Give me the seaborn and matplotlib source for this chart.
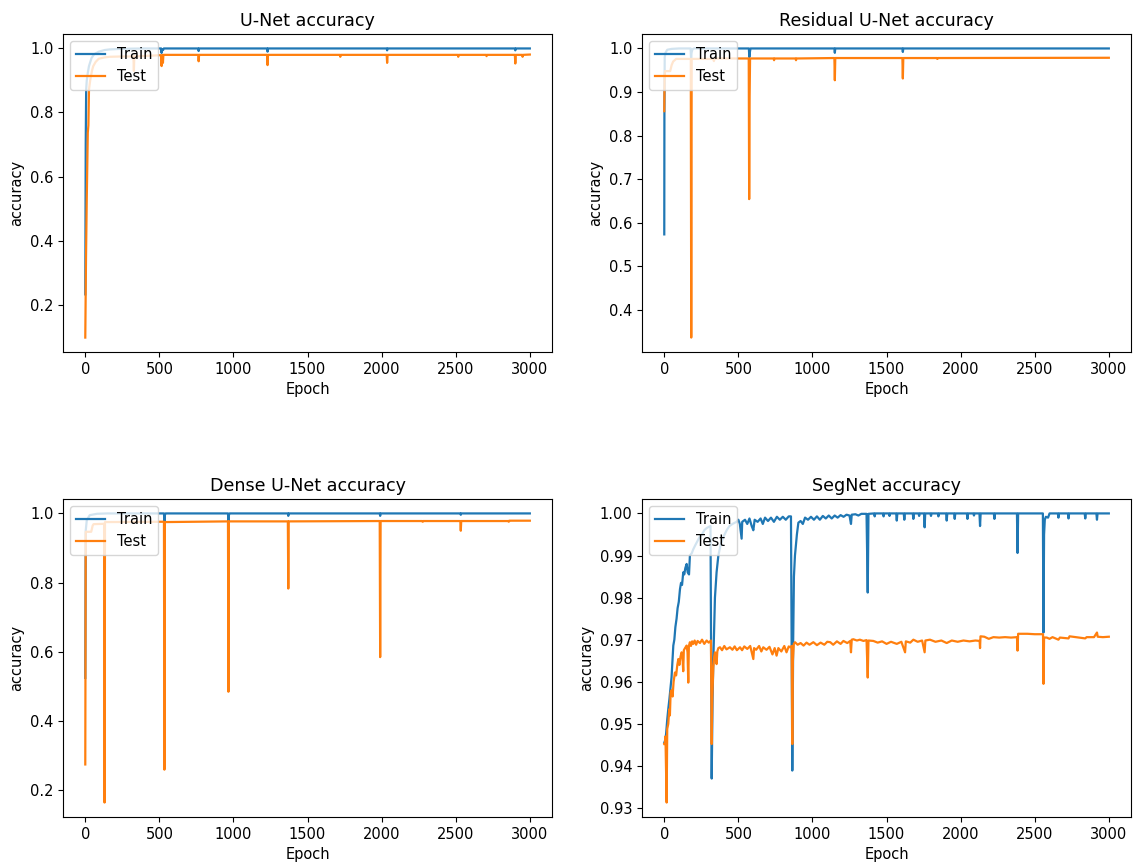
import matplotlib
matplotlib.use("Agg")
import matplotlib.pyplot as plt
import seaborn as sns
import pandas as pd

# ---------------- data (epoch, accuracy) ----------------
unet_train = [(0, 0.232), (3, 0.70), (6, 0.872), (10, 0.90), (17, 0.924), (25, 0.945), (42, 0.970),
              (60, 0.982), (91, 0.990), (130, 0.995), (164, 0.997), (250, 0.999), (400, 1.0),
              (512, 1.0), (515, 0.986), (518, 0.998), (525, 0.995), (530, 1.0),
              (762, 1.0), (765, 0.992), (768, 1.0), (1227, 1.0), (1230, 0.990), (1233, 1.0),
              (2034, 1.0), (2037, 0.994), (2040, 1.0), (2899, 1.0), (2902, 0.994), (2905, 1.0),
              (3000, 1.0)]
unet_test = [(0, 0.097), (5, 0.35), (10, 0.53), (17, 0.737), (21, 0.76), (25, 0.872), (34, 0.903),
             (45, 0.93), (54, 0.945), (70, 0.958), (91, 0.968), (130, 0.972), (164, 0.974),
             (250, 0.975), (325, 0.975), (328, 0.93), (331, 0.975), (420, 0.977), (507, 0.979),
             (512, 0.979), (515, 0.945), (518, 0.975), (522, 0.978), (524, 0.955), (527, 0.98),
             (763, 0.98), (765, 0.960), (768, 0.98), (1227, 0.98), (1230, 0.948), (1233, 0.98),
             (1718, 0.98), (1721, 0.974), (1724, 0.98), (2034, 0.98), (2037, 0.955), (2040, 0.98),
             (2514, 0.98), (2517, 0.974), (2520, 0.98), (2705, 0.98), (2708, 0.976), (2711, 0.98),
             (2899, 0.98), (2902, 0.953), (2905, 0.98), (2948, 0.98), (2951, 0.974), (2954, 0.98),
             (3000, 0.981)]

resunet_train = [(0, 0.573), (1, 0.856), (3, 0.98), (8, 0.99), (20, 0.997), (50, 0.999), (100, 1.0),
                 (178, 1.0), (181, 0.975), (184, 0.99), (190, 0.998), (200, 1.0),
                 (571, 1.0), (574, 0.98), (577, 0.99), (582, 1.0), (1148, 1.0), (1151, 0.99),
                 (1154, 1.0), (1607, 1.0), (1610, 0.992), (1613, 1.0), (3000, 1.0)]
resunet_test = [(0, 0.856), (2, 0.929), (5, 0.948), (40, 0.948), (50, 0.962), (60, 0.970), (80, 0.976),
                (179, 0.976), (182, 0.336), (185, 0.976), (330, 0.976), (335, 0.971), (340, 0.977),
                (570, 0.977), (573, 0.654), (576, 0.89), (579, 0.977), (738, 0.977), (741, 0.973),
                (744, 0.977), (886, 0.977), (889, 0.973), (892, 0.977), (1148, 0.978), (1151, 0.927),
                (1154, 0.978), (1607, 0.978), (1610, 0.931), (1613, 0.978), (1840, 0.978),
                (1843, 0.976), (1846, 0.978), (3000, 0.9786)]

dense_train = [(0, 0.525), (3, 0.95), (10, 0.98), (30, 0.995), (80, 0.999), (150, 1.0),
               (531, 1.0), (534, 0.978), (537, 0.995), (542, 1.0), (963, 1.0), (966, 0.978),
               (969, 0.995), (974, 1.0), (1367, 1.0), (1370, 0.993), (1373, 1.0), (1987, 1.0),
               (1990, 0.993), (1993, 1.0), (2531, 1.0), (2534, 0.996), (2537, 1.0), (3000, 1.0)]
dense_test = [(0, 0.275), (3, 0.947), (40, 0.947), (50, 0.965), (56, 0.969), (127, 0.970),
              (130, 0.165), (133, 0.975), (531, 0.976), (534, 0.26), (537, 0.975), (963, 0.977),
              (966, 0.485), (969, 0.977), (1367, 0.977), (1370, 0.783), (1373, 0.977), (1987, 0.978),
              (1990, 0.585), (1993, 0.978), (2274, 0.978), (2277, 0.976), (2280, 0.978), (2531, 0.978),
              (2534, 0.95), (2537, 0.978), (2855, 0.978), (2858, 0.976), (2861, 0.979), (3000, 0.979)]

segnet_train = [(0, 0.9455), (5, 0.9460), (12, 0.9475), (20, 0.9510), (27, 0.9535), (35, 0.9560),
                (42, 0.9585), (49, 0.9610), (55, 0.9650), (61, 0.9686), (68, 0.9700), (75, 0.9730),
                (83, 0.9750), (90, 0.9775), (98, 0.9790), (106, 0.9820), (113, 0.9835), (120, 0.9830),
                (128, 0.9860), (135, 0.9855), (142, 0.9870), (151, 0.9880), (158, 0.9860),
                (167, 0.9855), (173, 0.9900), (185, 0.9905), (196, 0.9915), (210, 0.9925),
                (225, 0.9935), (240, 0.9945), (255, 0.9950), (270, 0.9960), (285, 0.9965),
                (300, 0.9968), (312, 0.9970), (320, 0.9370), (326, 0.9560), (331, 0.9650),
                (342, 0.9800), (353, 0.9860), (365, 0.9900), (380, 0.9925), (400, 0.9945),
                (421, 0.9960), (440, 0.9970), (460, 0.9975), (488, 0.9980), (500, 0.9985),
                (510, 0.9975), (522, 0.9940), (526, 0.9980), (545, 0.9985), (560, 0.9975),
                (575, 0.9988), (590, 0.9970), (601, 0.9960), (610, 0.9985), (630, 0.9980),
                (650, 0.9988), (665, 0.9975), (680, 0.9990), (700, 0.9982), (720, 0.9990),
                (740, 0.9980), (760, 0.9992), (780, 0.9985), (800, 0.9992), (820, 0.9985),
                (840, 0.9993), (855, 0.9993), (864, 0.9389), (870, 0.9700), (875, 0.9850),
                (882, 0.9900), (895, 0.9950), (905, 0.9978), (920, 0.9982), (935, 0.9975),
                (950, 0.9990), (970, 0.9985), (990, 0.9992), (1010, 0.9985), (1030, 0.9993),
                (1050, 0.9985), (1070, 0.9994), (1090, 0.9988), (1110, 0.9995), (1130, 0.9988),
                (1150, 0.9995), (1170, 0.9990), (1190, 0.9996), (1210, 0.9992), (1230, 0.9997),
                (1250, 0.9995), (1260, 0.9975), (1265, 0.9997), (1290, 0.9998), (1310, 0.9995),
                (1330, 0.9999), (1365, 0.9999), (1373, 0.9812), (1378, 0.9999), (1416, 1.0),
                (1420, 0.9993), (1424, 1.0), (1476, 1.0), (1480, 0.9993), (1484, 1.0), (1516, 1.0),
                (1520, 0.9994), (1524, 1.0), (1565, 1.0), (1569, 0.9983), (1573, 1.0), (1616, 1.0),
                (1620, 0.9985), (1624, 1.0), (1677, 1.0), (1681, 0.9987), (1685, 1.0), (1716, 1.0),
                (1720, 0.9994), (1724, 1.0), (1753, 1.0), (1757, 0.9967), (1761, 1.0), (1796, 1.0),
                (1800, 0.9994), (1804, 1.0), (1846, 1.0), (1850, 0.9993), (1854, 1.0), (1902, 1.0),
                (1906, 0.9983), (1910, 1.0), (1956, 1.0), (1960, 0.9987), (1964, 1.0), (2042, 1.0),
                (2046, 0.9987), (2050, 1.0), (2086, 1.0), (2090, 0.9995), (2094, 1.0), (2127, 1.0),
                (2131, 0.9970), (2135, 1.0), (2224, 1.0), (2228, 0.9987), (2232, 1.0), (2380, 1.0),
                (2384, 0.9906), (2388, 1.0), (2555, 1.0), (2559, 0.9717), (2563, 0.9950),
                (2568, 0.9985), (2575, 0.9992), (2590, 0.9990), (2600, 1.0), (2656, 1.0),
                (2660, 0.9990), (2664, 1.0), (2724, 1.0), (2728, 0.9988), (2732, 1.0), (2837, 1.0),
                (2841, 0.9988), (2845, 1.0), (2916, 1.0), (2920, 0.9985), (2924, 1.0), (3000, 1.0)]
segnet_test = [(0, 0.9452), (4, 0.9452), (8, 0.9470), (16, 0.9313), (20, 0.9488), (27, 0.9500),
               (34, 0.9535), (38, 0.9520), (43, 0.9575), (50, 0.9580), (56, 0.9565), (63, 0.9600),
               (72, 0.9622), (80, 0.9615), (88, 0.9640), (95, 0.9654), (102, 0.9640), (110, 0.9660),
               (117, 0.9670), (122, 0.9665), (128, 0.9625), (132, 0.9675), (140, 0.9680),
               (151, 0.9686), (157, 0.9670), (162, 0.9598), (166, 0.9685), (173, 0.9694),
               (180, 0.9685), (188, 0.9696), (196, 0.9690), (205, 0.9698), (215, 0.9688),
               (225, 0.9697), (241, 0.9692), (255, 0.9700), (270, 0.9690), (286, 0.9698),
               (300, 0.9693), (315, 0.9698), (320, 0.9452), (324, 0.9560), (331, 0.9635),
               (337, 0.9660), (342, 0.9670), (348, 0.9665), (353, 0.9642), (358, 0.9672),
               (365, 0.9680), (376, 0.9682), (390, 0.9675), (405, 0.9685), (420, 0.9677),
               (443, 0.9682), (460, 0.9676), (475, 0.9684), (490, 0.9675), (511, 0.9682),
               (525, 0.9675), (540, 0.9684), (560, 0.9678), (580, 0.9685), (601, 0.9654),
               (606, 0.9680), (620, 0.9676), (640, 0.9685), (655, 0.9672), (668, 0.9682),
               (690, 0.9676), (710, 0.9683), (730, 0.9665), (745, 0.9680), (758, 0.9662),
               (770, 0.9680), (790, 0.9672), (810, 0.9685), (825, 0.9670), (840, 0.9684),
               (849, 0.9682), (860, 0.9685), (864, 0.9452), (868, 0.9650), (874, 0.9690),
               (882, 0.9694), (900, 0.9688), (920, 0.9692), (940, 0.9686), (960, 0.9693),
               (980, 0.9688), (1006, 0.9694), (1030, 0.9687), (1055, 0.9693), (1080, 0.9688),
               (1100, 0.9695), (1120, 0.9694), (1140, 0.9688), (1165, 0.9696), (1190, 0.9690),
               (1209, 0.9697), (1235, 0.9692), (1255, 0.9697), (1260, 0.9670), (1265, 0.9700),
               (1276, 0.9701), (1300, 0.9698), (1320, 0.9700), (1344, 0.9697), (1365, 0.9699),
               (1373, 0.9610), (1378, 0.9698), (1411, 0.9697), (1440, 0.9693), (1470, 0.9696),
               (1500, 0.9690), (1530, 0.9695), (1569, 0.9690), (1600, 0.9695), (1625, 0.9670),
               (1630, 0.9696), (1660, 0.9693), (1681, 0.9700), (1710, 0.9695), (1740, 0.9698),
               (1757, 0.9670), (1762, 0.9698), (1793, 0.9700), (1830, 0.9695), (1870, 0.9698),
               (1906, 0.9692), (1940, 0.9698), (1980, 0.9695), (2019, 0.9698), (2060, 0.9696),
               (2100, 0.9698), (2128, 0.9697), (2131, 0.9680), (2134, 0.9708), (2160, 0.9707),
               (2190, 0.9702), (2221, 0.9706), (2260, 0.9705), (2300, 0.9706), (2340, 0.9705),
               (2380, 0.9706), (2384, 0.9674), (2388, 0.9714), (2450, 0.9714), (2500, 0.9713),
               (2556, 0.9713), (2559, 0.9595), (2563, 0.9705), (2581, 0.9705), (2600, 0.9702),
               (2620, 0.9706), (2660, 0.9700), (2670, 0.9705), (2728, 0.9703), (2735, 0.9708),
               (2780, 0.9706), (2820, 0.9704), (2841, 0.9703), (2850, 0.9706), (2900, 0.9706),
               (2920, 0.9717), (2925, 0.9707), (2960, 0.9706), (3000, 0.9707)]

titles = ["U-Net accuracy", "Residual U-Net accuracy", "Dense U-Net accuracy", "SegNet accuracy"]
series_labels = ["Train", "Test"]
models = [(unet_train, unet_test), (resunet_train, resunet_test),
          (dense_train, dense_test), (segnet_train, segnet_test)]

# ---------------- figure ----------------
plt.rcParams["font.size"] = 10.5
plt.rcParams["legend.fontsize"] = 10.5

fig, axes = plt.subplots(2, 2, figsize=(11.34, 8.63), dpi=100)
fig.subplots_adjust(left=0.0556, right=0.9974, bottom=0.0533, top=0.9606,
                    wspace=0.184, hspace=0.462)

colors = ["#1f77b4", "#ff7f0e"]
for ax, title, (tr, te) in zip(axes.flat, titles, models):
    for data, lab, col in zip((tr, te), series_labels, colors):
        df = pd.DataFrame(data, columns=["epoch", "acc"])
        sns.lineplot(data=df, x="epoch", y="acc", ax=ax, label=lab, color=col,
                     estimator=None, sort=False, linewidth=1.6)
    ax.set_title(title, fontsize=12.6)
    ax.set_xlabel("Epoch")
    ax.set_ylabel("accuracy")
    ax.set_xticks([0, 500, 1000, 1500, 2000, 2500, 3000])
    ax.legend(loc="upper left")

fig.savefig("out.png", dpi=100)
